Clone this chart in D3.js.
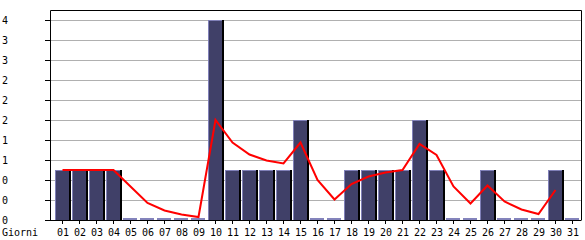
<!DOCTYPE html>
<html>
<head>
<meta charset="utf-8">
<script src="https://cdn.jsdelivr.net/npm/d3@7"></script>
<style>
body { margin: 0; background: #fff; }
text { font-family: "DejaVu Sans Mono", monospace; font-size: 10px; fill: #000; }
</style>
</head>
<body>
<div id="chart"></div>
<script>
var days = ['01','02','03','04','05','06','07','08','09','10','11','12','13','14','15','16',
    '17','18','19','20','21','22','23','24','25','26','27','28','29','30','31'];
var visits = [1,1,1,1,0,0,0,0,0,4,1,1,1,1,2,0,0,1,1,1,1,2,1,0,0,1,0,0,0,1,0];
var trend = [1,1,1,1,0.67,0.34,0.19,0.11,0.06,2.0,1.55,1.31,1.19,1.13,1.55,0.8,0.41,
    0.72,0.87,0.95,1.0,1.52,1.3,0.67,0.33,0.69,0.37,0.21,0.12,0.6];
var yTicks = [0,0.4,0.8,1.2,1.6,2.0,2.4,2.8,3.2,3.6,4];

var width = 585, height = 240;
var frame = {left: 50, right: 581, top: 10, bottom: 220};

var svg = d3.select('#chart').append('svg')
    .attr('width', width)
    .attr('height', height);

var scaleX = d3.scaleBand().domain(days).range([53, 580]).padding(0);
var scaleY = d3.scaleLinear().domain([0, 4]).range([frame.bottom, 20]);

// grid
svg.selectAll('line.grid')
    .data(yTicks.slice(1))
    .enter().append('line')
    .attr('class', 'grid')
    .attr('x1', frame.left).attr('x2', frame.right)
    .attr('y1', function(d){ return Math.round(scaleY(d)) + 0.5; })
    .attr('y2', function(d){ return Math.round(scaleY(d)) + 0.5; })
    .style('stroke', '#b0b0b0');

// y ticks + labels
svg.selectAll('line.ytick')
    .data(yTicks)
    .enter().append('line')
    .attr('x1', 45).attr('x2', frame.left)
    .attr('y1', function(d){ return Math.round(scaleY(d)) + 0.5; })
    .attr('y2', function(d){ return Math.round(scaleY(d)) + 0.5; })
    .style('stroke', '#000');
svg.selectAll('text.ylabel')
    .data(yTicks)
    .enter().append('text')
    .attr('x', 2)
    .attr('y', function(d){ return scaleY(d) + 4; })
    .text(function(d){ return Math.floor(d + 1e-9); });

// bars
var bars = svg.selectAll('g.bar')
    .data(visits)
    .enter().append('g')
    .attr('transform', function(d, i){ return 'translate(' + scaleX(days[i]) + ',0)'; });

bars.each(function(d){
    var g = d3.select(this);
    if (d === 0) {
        g.append('rect')
            .attr('x', 2).attr('y', frame.bottom - 2)
            .attr('width', 14).attr('height', 2)
            .style('fill', '#8484bc');
        return;
    }
    var top = scaleY(d);
    g.append('rect')
        .attr('x', 16).attr('y', top)
        .attr('width', 2).attr('height', frame.bottom - top)
        .style('fill', '#000');
    g.append('rect')
        .attr('x', 2).attr('y', top)
        .attr('width', 14).attr('height', frame.bottom - top)
        .style('fill', '#8080b8');
    g.append('rect')
        .attr('x', 3).attr('y', top + 1)
        .attr('width', 13).attr('height', frame.bottom - top - 1)
        .style('fill', '#404068');
});

// trend line
var line = d3.line()
    .x(function(d, i){ return scaleX(days[i]) + scaleX.bandwidth() / 2 + 1; })
    .y(function(d){ return scaleY(d); });
svg.append('path')
    .attr('d', line(trend))
    .style('fill', 'none')
    .style('stroke', '#ff0000')
    .style('stroke-width', 2);

// frame
svg.append('path')
    .attr('d', 'M' + [[frame.left + 0.5, frame.bottom + 0.5], [frame.left + 0.5, frame.top + 0.5],
        [frame.right + 0.5, frame.top + 0.5], [frame.right + 0.5, frame.bottom + 0.5]].join('L'))
    .style('fill', 'none')
    .style('stroke', '#000');
svg.append('line')
    .attr('x1', frame.left).attr('x2', frame.right)
    .attr('y1', frame.bottom + 0.5).attr('y2', frame.bottom + 0.5)
    .style('stroke', '#000');

// x ticks + labels
svg.selectAll('line.xtick')
    .data(days)
    .enter().append('line')
    .attr('x1', function(d){ return Math.round(scaleX(d) + 9) + 0.5; })
    .attr('x2', function(d){ return Math.round(scaleX(d) + 9) + 0.5; })
    .attr('y1', frame.bottom).attr('y2', frame.bottom + 4)
    .style('stroke', '#000');
svg.selectAll('text.xlabel')
    .data(days)
    .enter().append('text')
    .attr('x', function(d){ return scaleX(d) + 10; })
    .attr('y', 236)
    .attr('text-anchor', 'middle')
    .text(function(d){ return d; });

svg.append('text')
    .attr('x', 2)
    .attr('y', 236)
    .text('Giorni');
</script>
</body>
</html>
